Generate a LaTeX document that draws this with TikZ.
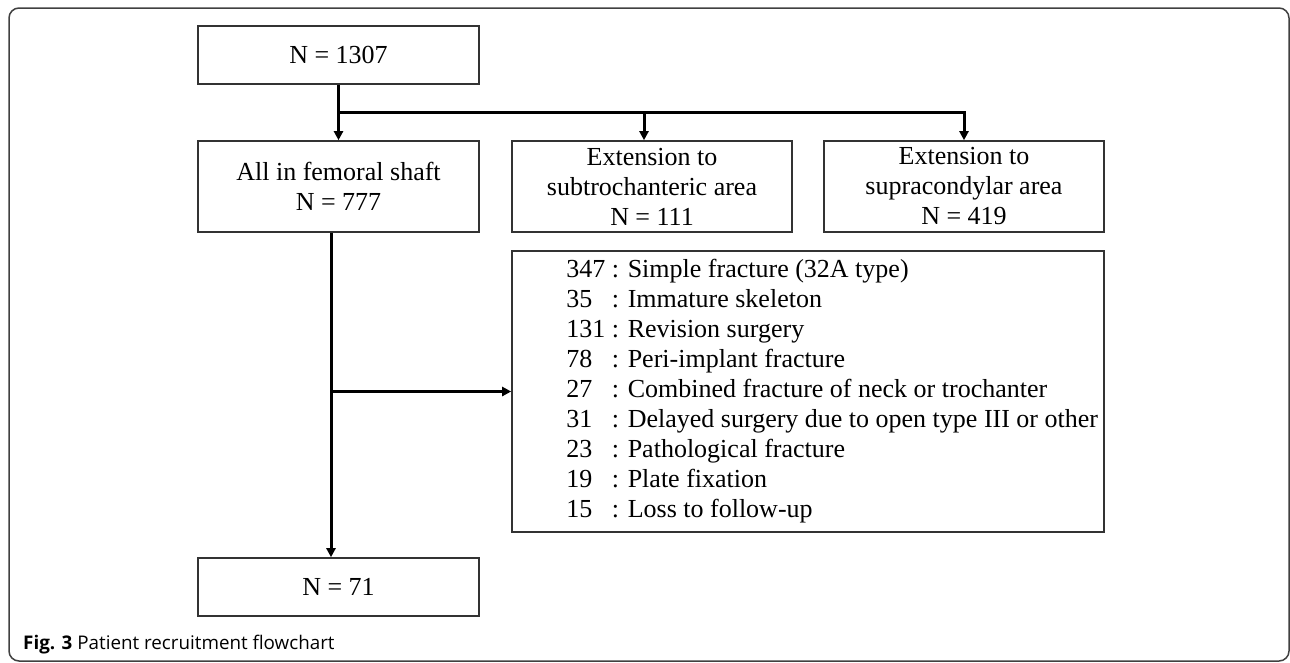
\documentclass[tikz,border=0pt]{standalone}
\usepackage{fontspec}
\setmainfont{Liberation Serif}
\newfontfamily\capfont{Open Sans}
\usetikzlibrary{arrows.meta}
\begin{document}
\begin{tikzpicture}[x=1pt,y=-1pt,
  box/.style={draw=black!80, line width=1.6pt, rectangle, align=center, inner sep=0pt,
    font=\fontsize{26}{30}\selectfont},
  conn/.style={line width=3pt, -{Triangle[length=9pt,width=9pt]}},
  listfont/.style={font=\fontsize{26}{30}\selectfont}]
\useasboundingbox (0,0) rectangle (1290,662);
\draw[black!75, line width=1.5pt, rounded corners=10pt] (9,8) rectangle (1289,661);

\node[box, minimum width=281pt, minimum height=58pt] (top) at (338.5,55) {N = 1307};
\node[box, minimum width=281pt, minimum height=91pt] (b2) at (338.5,186.5) {All in femoral shaft\\N = 777};
\node[box, minimum width=280pt, minimum height=91pt] (b3) at (652,186.5) {Extension to\\subtrochanteric area\\N = 111};
\node[box, minimum width=280pt, minimum height=91pt] (b4) at (964,186.5) {Extension to\\supracondylar area\\N = 419};
\node[box, minimum width=592pt, minimum height=281pt] (list) at (808,391.5) {};
\node[box, minimum width=281pt, minimum height=58pt] (final) at (338.5,587) {N = 71};

\node[listfont, anchor=west, align=left, inner sep=0pt] (listtxt) at ([xshift=55pt]list.west) {%
\makebox[45.5pt][l]{347}: Simple fracture (32A type)\\
\makebox[45.5pt][l]{35}: Immature skeleton\\
\makebox[45.5pt][l]{131}: Revision surgery\\
\makebox[45.5pt][l]{78}: Peri-implant fracture\\
\makebox[45.5pt][l]{27}: Combined fracture of neck or trochanter\\
\makebox[45.5pt][l]{31}: Delayed surgery due to open type III or other\\
\makebox[45.5pt][l]{23}: Pathological fracture\\
\makebox[45.5pt][l]{19}: Plate fixation\\
\makebox[45.5pt][l]{15}: Loss to follow-up};

\draw[conn] (top.south) -- (b2.north);
\coordinate (j) at (top.south |- 0,112);
\draw[conn] (j) -| ([xshift=-8pt]b3.north);
\draw[conn] (j) -| (b4.north);
\draw[conn] ([xshift=-7.5pt]b2.south) -- ([xshift=-7.5pt]final.north);
\coordinate (k) at ([xshift=-7.5pt]b2.south |- list.west);
\draw[conn] (k) -- (list.west);

\node[anchor=base west, inner sep=0pt, font=\capfont\fontsize{18.8}{22}\selectfont] (cap) at (23,649)
  {\textbf{Fig. 3} Patient recruitment flowchart};
\end{tikzpicture}
\end{document}
